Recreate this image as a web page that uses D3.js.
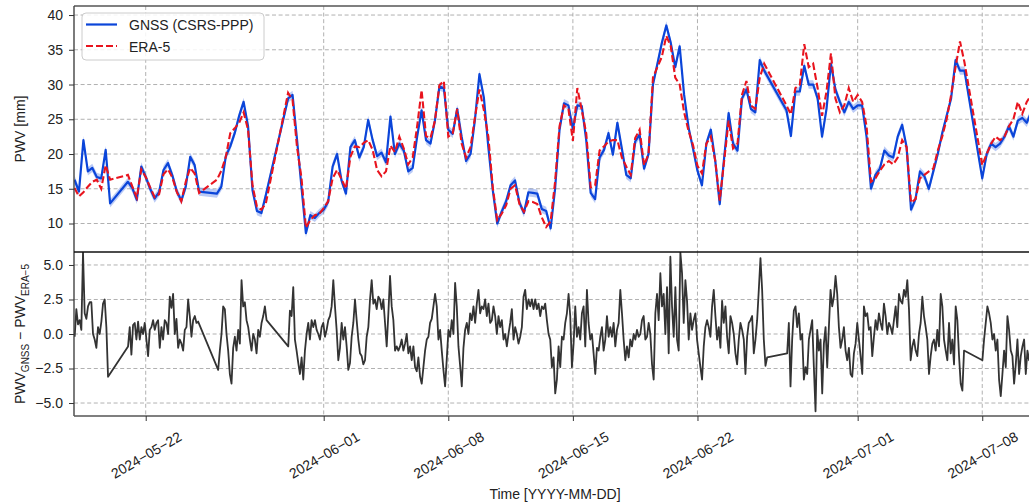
<!DOCTYPE html>
<html>
<head>
<meta charset="utf-8">
<script src="https://cdn.jsdelivr.net/npm/d3@7"></script>
<style>
  body { margin: 0; background: #fff; }
  svg { display: block; font-family: "Liberation Sans", Arial, sans-serif; }
</style>
</head>
<body>
<div id="chart"></div>
<script>
// time base: 2024-05-18 00:00 UTC
const t0 = Date.UTC(2024, 4, 18);
const HOUR = 3600e3;
const topStepHours = 6;      // PWV series sampled every 6 h
const diffStartHours = 0.2;
const diffStepHours = 2.25;  // difference series sampled every 2.25 h
const gnssSigma = 0.6;       // shaded GNSS uncertainty [mm]

const xTickDates = ["2024-05-22", "2024-06-01", "2024-06-08", "2024-06-15", "2024-06-22", "2024-07-01", "2024-07-08"];
const topTicks = [10, 15, 20, 25, 30, 35, 40];
const bottomTicks = [-5, -2.5, 0, 2.5, 5];
const legendLabels = ["GNSS (CSRS-PPP)", "ERA-5"];

// null = missing epoch (line is drawn straight across)
const gnssPwv = [16.3,14.6,22.0,17.5,18.0,16.7,16.5,20.6,12.9,null,
 null,null,16.0,15.1,13.4,18.2,16.7,15.0,13.6,14.5,
 17.7,18.7,16.9,14.6,13.3,15.3,19.6,18.4,14.6,null,
 null,null,14.3,15.3,19.7,21.1,23.0,25.5,27.5,24.0,
 14.8,11.8,11.5,14.1,null,null,null,null,28.0,28.5,
 22.1,15.3,8.6,11.2,10.8,11.5,12.0,13.1,18.2,20.0,
 16.2,14.3,21.0,22.0,19.5,21.0,24.9,22.0,19.7,20.2,
 18.8,25.4,20.0,21.5,20.5,17.5,18.0,22.5,26.3,22.0,
 21.5,24.8,29.7,29.5,23.5,22.9,26.5,22.5,19.0,20.0,
 25.0,31.5,28.1,21.0,14.8,10.0,11.7,13.2,15.5,16.2,
 13.0,11.5,14.5,14.4,14.3,12.1,11.8,9.3,15.0,23.5,
 27.3,27.0,23.6,27.0,26.9,22.0,14.4,13.5,19.5,20.6,
 23.0,19.9,24.5,20.8,17.0,16.5,21.8,22.8,17.9,20.0,
 30.0,33.0,36.0,38.5,36.0,32.5,35.5,28.5,23.8,20.8,
 17.6,15.5,21.5,23.5,19.0,12.8,19.5,25.9,21.5,20.5,
 28.0,29.3,26.5,26.0,33.5,32.0,null,null,null,null,
 26.3,22.6,29.0,29.0,32.7,30.0,30.0,28.0,22.5,26.5,
 33.0,29.3,27.5,26.0,27.5,26.5,27.0,27.0,22.5,15.0,
 17.0,17.9,20.5,19.8,19.5,22.5,24.2,21.0,12.0,13.5,
 17.5,16.8,15.0,17.5,20.0,23.0,25.5,28.0,33.5,32.0,
 32.0,null,null,null,16.5,20.0,21.5,21.0,21.5,22.5,
 24.0,22.5,24.8,25.2,24.5,26.0];

const eraPwv = [15.1,13.9,14.5,15.3,16.0,16.3,15.0,18.4,16.3,null,
 null,null,17.0,15.3,13.7,17.8,16.7,15.2,13.8,14.2,
 17.1,17.8,16.6,14.5,13.2,16.0,18.0,17.2,14.4,null,
 null,null,16.3,17.6,19.6,23.0,23.7,24.5,26.0,23.5,
 15.5,12.4,12.0,12.9,null,null,null,null,28.8,27.8,
 21.0,16.6,9.4,10.5,11.2,11.4,12.2,13.2,16.5,17.7,
 16.4,15.0,19.6,21.1,21.0,21.6,22.0,20.6,17.7,16.8,
 17.5,21.2,20.3,22.5,20.8,18.5,19.5,24.0,29.2,22.6,
 22.3,24.8,29.9,30.5,22.5,23.0,26.5,21.5,19.5,21.0,
 25.3,29.3,26.3,22.5,15.2,10.5,11.4,12.6,15.0,15.5,
 12.8,11.7,13.2,13.1,12.8,10.9,9.5,10.3,16.0,24.0,
 27.0,26.5,21.9,29.5,26.3,23.0,15.2,15.5,20.5,21.1,
 21.8,22.0,22.0,19.5,18.2,17.0,22.3,23.5,18.4,20.0,
 31.0,32.5,34.0,37.0,35.5,31.0,30.0,26.0,23.3,21.3,
 18.3,17.2,21.5,22.5,19.0,13.3,19.0,24.8,20.8,21.5,
 28.5,30.5,27.0,26.5,31.0,33.0,null,null,null,null,
 27.0,25.7,29.5,30.0,35.8,32.5,33.0,29.5,25.5,29.0,
 34.5,28.0,26.0,27.0,29.5,27.5,28.5,27.5,24.0,16.0,
 16.5,17.6,18.5,19.0,18.5,19.5,22.0,21.0,13.0,13.5,
 16.5,17.0,17.5,17.9,20.5,22.5,25.0,28.5,32.5,36.2,
 33.2,null,null,null,18.4,20.0,21.5,22.5,22.0,22.5,
 24.0,25.0,27.5,25.8,27.5,28.5];

// PWV_GNSS - PWV_ERA5 [mm]
const pwvDiff = [-0.2,1.8,0.7,1.0,0.3,5.9,1.5,1.1,2.0,2.3,
 2.3,0.0,-0.4,-1.0,0.5,0.0,0.9,2.2,2.5,0.5,
 -3.1,null,null,null,null,null,null,null,null,null,
 null,null,-0.9,0.5,-1.5,0.65,0.8,-0.4,0.9,-0.4,
 0.5,0.0,0.8,-0.4,-1.6,0.3,0.5,1.0,0.3,0.8,
 1.0,-1.0,0.5,-0.4,1.0,0.8,0.0,2.7,1.9,2.9,
 0.0,1.1,-1.0,-0.4,-0.7,-1.2,0.3,0.5,2.5,1.3,
 -0.2,1.0,1.3,0.8,0.9,null,null,null,null,null,
 null,null,null,null,null,null,-2.6,-1.2,0.0,2.0,
 1.8,0.0,-1.2,-2.9,-3.6,-1.0,-0.2,-1.2,0.3,-0.7,
 3.9,2.0,2.3,1.0,0.5,-0.4,-1.2,0.0,-0.4,-1.4,
 0.3,-0.2,0.8,1.3,2.0,1.0,null,null,null,null,
 null,null,null,null,null,null,null,null,-0.9,1.7,
 1.3,3.4,-0.4,-1.2,-2.1,-2.9,-1.7,-3.3,-1.2,0.0,
 0.8,-0.4,1.0,0.5,1.0,0.3,0.0,-0.4,0.5,0.8,
 -0.2,0.3,1.0,1.3,2.0,3.9,2.0,0.3,-1.9,-1.0,
 0.8,-0.4,0.5,-0.9,-2.6,-2.1,-0.2,0.8,2.5,1.0,
 -0.4,-1.4,-1.6,-2.2,-1.9,-0.2,0.5,2.5,3.9,2.2,
 2.5,1.8,2.7,2.5,1.8,2.5,0.8,-0.9,1.5,4.2,
 2.0,1.0,-1.2,-0.9,-1.2,-0.9,-0.4,-1.2,-0.7,0.0,
 -1.4,-0.9,-1.9,-0.9,-2.4,-2.7,-1.7,-3.1,-3.6,-2.4,
 -1.2,-0.4,-0.2,0.8,1.1,2.0,2.9,2.0,-0.4,0.3,
 -1.2,-2.6,-3.8,-1.8,0.3,-0.2,1.0,0.0,3.7,2.0,
 -0.9,-2.3,-3.8,-1.0,0.3,0.8,0.0,1.5,1.0,2.0,
 0.8,2.2,3.2,1.5,2.0,1.8,2.5,1.3,2.2,0.8,
 1.0,2.0,1.3,0.0,1.3,0.5,1.0,-0.4,0.0,-0.9,
 0.0,0.8,1.8,-0.4,0.5,0.0,-0.7,-0.2,0.5,2.7,
 3.2,1.8,2.5,2.0,2.5,1.8,2.5,1.8,2.2,1.3,
 2.0,1.8,2.2,1.0,0.0,-0.4,-2.4,-1.7,-4.3,-3.3,
 -0.9,-2.4,-0.2,-0.4,0.8,1.5,2.9,1.3,-2.4,-0.7,
 2.0,-0.2,0.5,-0.4,1.5,2.0,-0.9,3.2,0.8,-0.4,
 0.0,-1.4,-2.9,-1.0,-1.2,-0.2,0.5,-1.2,-0.4,1.3,
 -0.2,0.5,-0.2,0.8,-0.9,0.3,0.8,3.2,1.5,-0.4,
 -1.9,-0.9,-1.7,-0.4,-0.9,0.0,-0.4,0.3,-0.2,0.0,
 1.0,1.3,-0.4,-0.2,0.8,0.0,-2.2,-3.3,1.5,2.9,
 1.0,4.4,2.0,2.9,0.0,3.4,-1.4,5.6,2.0,-0.2,
 3.4,-0.4,-1.2,5.9,4.4,0.8,3.9,2.4,-0.4,1.5,
 0.3,1.0,1.5,-0.4,-1.4,-2.4,-3.3,-0.9,0.5,1.0,
 0.5,-0.2,2.0,3.2,1.3,-0.4,0.5,-1.0,2.4,0.8,
 2.0,-0.2,-1.4,1.3,0.8,0.0,-1.4,-2.2,-0.4,0.8,
 0.3,-0.4,-2.9,-0.2,0.8,1.0,1.3,-1.4,-0.4,1.0,
 3.2,5.5,3.2,-0.4,-2.3,-1.7,null,null,null,null,
 null,null,null,null,null,null,null,-1.4,0.8,-3.8,
 -0.4,1.7,2.0,0.5,1.5,-0.4,0.0,-3.3,-2.4,-2.9,
 -0.4,0.3,1.0,-2.4,-5.6,0.3,-1.2,-0.4,-4.3,-0.7,
 0.5,-2.4,0.5,3.2,2.0,2.7,4.2,2.9,0.5,-1.0,
 -0.4,0.5,-1.2,-1.9,-1.0,-2.9,-3.1,-1.4,-0.7,0.8,
 -0.4,-1.6,-2.9,2.0,1.3,1.5,0.3,0.5,-1.6,-0.2,
 1.0,0.3,1.5,0.8,0.3,2.2,1.3,0.0,0.8,0.5,
 0.0,1.0,2.0,0.5,2.9,2.4,2.2,3.2,2.7,3.9,
 1.8,-1.9,-0.9,-0.4,-1.2,-1.6,0.0,0.8,2.7,1.3,
 0.5,-0.4,-2.9,-1.6,-0.7,-0.4,-1.2,0.3,-0.9,2.9,
 2.0,-0.4,-1.2,-1.9,0.8,-1.4,-0.4,-2.2,2.0,1.0,
 -1.6,-3.6,-4.1,-1.2,null,null,null,null,null,null,
 null,null,null,null,-1.9,-0.4,0.8,2.0,1.5,0.8,
 -0.4,0.0,-1.2,-0.4,-3.3,-4.5,-2.9,-1.2,-2.4,1.3,
 0.3,-1.2,-1.6,-3.6,-2.2,-0.4,-2.9,-1.6,-0.9,-0.4,
 -2.9,-1.2,-1.9,-1.5,-1.0,-1.8,-1.2];

// layout
const W = 1029, H = 504;
const left = 74, right = 1036;
const topY0 = 6, topY1 = 252, botY0 = 252, botY1 = 416;
const textColor = "#222";
const minus = s => s.replace(/-/g, "\u2212");

const svg = d3.select("#chart").append("svg")
  .attr("width", W).attr("height", H)
  .attr("viewBox", `0 0 ${W} ${H}`);

svg.append("rect").attr("width", W).attr("height", H).attr("fill", "#fff");

const x = d3.scaleUtc()
  .domain([new Date(t0 - 0.7 * HOUR), new Date(t0 + 54.02 * 24 * HOUR)])
  .range([left, right]);
const yTop = d3.scaleLinear().domain([5.9, 41.3]).range([topY1, topY0]);
const yBot = d3.scaleLinear().domain([-5.94, 5.94]).range([botY1, botY0]);

// build point lists, dropping missing epochs
const gnss = gnssPwv.map((v, i) => ({ t: new Date(t0 + i * topStepHours * HOUR), v: v }))
  .filter(d => d.v !== null);
const era = eraPwv.map((v, i) => ({ t: new Date(t0 + i * topStepHours * HOUR), v: v }))
  .filter(d => d.v !== null);
const diff = pwvDiff.map((v, i) => ({ t: new Date(t0 + (diffStartHours + i * diffStepHours) * HOUR), v: v }))
  .filter(d => d.v !== null);

const tickDates = xTickDates.map(s => new Date(s + "T00:00:00Z"));

// clip paths
const defs = svg.append("defs");
defs.append("clipPath").attr("id", "clipTop").append("rect")
  .attr("x", left).attr("y", topY0).attr("width", right - left).attr("height", topY1 - topY0);
defs.append("clipPath").attr("id", "clipBot").append("rect")
  .attr("x", left).attr("y", botY0).attr("width", right - left).attr("height", botY1 - botY0);

// grids
function grid(yScale, ticks, y0, y1) {
  const g = svg.append("g")
    .attr("stroke", "#a8a8a8").attr("stroke-width", 0.9).attr("stroke-dasharray", "4,2.6");
  g.selectAll(".v").data(tickDates).enter().append("line")
    .attr("x1", d => x(d)).attr("x2", d => x(d)).attr("y1", y0).attr("y2", y1);
  g.selectAll(".h").data(ticks).enter().append("line")
    .attr("x1", left).attr("x2", right).attr("y1", d => yScale(d)).attr("y2", d => yScale(d));
}
grid(yTop, topTicks, topY0, topY1);
grid(yBot, bottomTicks, botY0, botY1);

// top panel series
const topPanel = svg.append("g").attr("clip-path", "url(#clipTop)");
topPanel.append("path").datum(gnss)
  .attr("fill", "#1f52e0").attr("fill-opacity", 0.3)
  .attr("d", d3.area().x(d => x(d.t)).y0(d => yTop(d.v - gnssSigma)).y1(d => yTop(d.v + gnssSigma)));
topPanel.append("path").datum(gnss)
  .attr("fill", "none").attr("stroke", "#0b45d9").attr("stroke-width", 2.2)
  .attr("stroke-linejoin", "round")
  .attr("d", d3.line().x(d => x(d.t)).y(d => yTop(d.v)));
topPanel.append("path").datum(era)
  .attr("fill", "none").attr("stroke", "#e8141e").attr("stroke-width", 2.1)
  .attr("stroke-dasharray", "7,3")
  .attr("d", d3.line().x(d => x(d.t)).y(d => yTop(d.v)));

// bottom panel series
svg.append("g").attr("clip-path", "url(#clipBot)")
  .append("path").datum(diff)
  .attr("fill", "none").attr("stroke", "#333").attr("stroke-width", 1.8)
  .attr("stroke-linejoin", "round")
  .attr("d", d3.line().x(d => x(d.t)).y(d => yBot(d.v)));

// spines
const spines = svg.append("g").attr("fill", "none");
spines.append("line").attr("x1", left).attr("x2", right).attr("y1", topY0).attr("y2", topY0)
  .attr("stroke", "#555").attr("stroke-width", 1.6);
spines.append("line").attr("x1", left).attr("x2", left).attr("y1", topY0).attr("y2", botY1)
  .attr("stroke", "#444").attr("stroke-width", 1.4);
spines.append("line").attr("x1", left).attr("x2", right).attr("y1", botY1).attr("y2", botY1)
  .attr("stroke", "#555").attr("stroke-width", 1.6);
spines.append("line").attr("x1", left).attr("x2", right).attr("y1", topY1).attr("y2", topY1)
  .attr("stroke", "#111").attr("stroke-width", 1.5);

// axes
function styleAxis(g) {
  g.select(".domain").remove();
  g.selectAll(".tick line").attr("stroke", "#333").attr("stroke-width", 1);
  g.selectAll(".tick text").attr("fill", textColor).attr("font-size", 14)
    .attr("font-family", "'Liberation Sans', Arial, sans-serif");
}

svg.append("g").attr("transform", `translate(${left},0)`)
  .call(d3.axisLeft(yTop).tickValues(topTicks).tickSize(5).tickPadding(6).tickFormat(d3.format("d")))
  .call(styleAxis);

svg.append("g").attr("transform", `translate(${left},0)`)
  .call(d3.axisLeft(yBot).tickValues(bottomTicks).tickSize(5).tickPadding(6)
    .tickFormat(d => minus(d3.format(".1f")(d))))
  .call(styleAxis);

const xAxis = svg.append("g").attr("transform", `translate(0,${botY1})`)
  .call(d3.axisBottom(x).tickValues(tickDates).tickSize(5)
    .tickFormat(d => minus(d3.utcFormat("%Y-%m-%d")(d))))
  .call(styleAxis);
xAxis.selectAll(".tick text")
  .attr("y", null).attr("dy", null)
  .attr("text-anchor", "middle")
  .attr("dominant-baseline", "central")
  .attr("transform", "translate(0,39) rotate(-30)");

// axis labels
svg.append("text")
  .attr("transform", "translate(25,129) rotate(-90)")
  .attr("text-anchor", "middle").attr("font-size", 14).attr("fill", textColor)
  .text("PWV [mm]");

const diffLabel = svg.append("text")
  .attr("transform", "translate(25,334) rotate(-90)")
  .attr("text-anchor", "middle").attr("font-size", 14).attr("fill", textColor);
diffLabel.append("tspan").text("PWV");
diffLabel.append("tspan").attr("font-size", 10).attr("dy", 4).text("GNSS");
diffLabel.append("tspan").attr("dy", -4).text(" \u2212 PWV");
diffLabel.append("tspan").attr("font-size", 10).attr("dy", 4).text("ERA\u22125");

svg.append("text")
  .attr("x", (left + right) / 2).attr("y", 499)
  .attr("text-anchor", "middle").attr("font-size", 14).attr("fill", textColor)
  .text("Time [YYYY-MM-DD]");

// legend
const legend = svg.append("g");
legend.append("rect")
  .attr("x", 82).attr("y", 13).attr("width", 182).attr("height", 47).attr("rx", 4)
  .attr("fill", "#fff").attr("fill-opacity", 0.85)
  .attr("stroke", "#ccc").attr("stroke-width", 1);
const legendStyles = [
  { color: "#0b45d9", dash: null, y: 24.5 },
  { color: "#e8141e", dash: "7,3", y: 46 }
];
legendLabels.forEach((label, i) => {
  const s = legendStyles[i];
  legend.append("line")
    .attr("x1", 86).attr("x2", 117).attr("y1", s.y).attr("y2", s.y)
    .attr("stroke", s.color).attr("stroke-width", 2.2)
    .attr("stroke-dasharray", s.dash);
  legend.append("text")
    .attr("x", 129).attr("y", s.y + 5.5)
    .attr("font-size", 14).attr("fill", textColor)
    .text(label);
});
</script>
</body>
</html>
